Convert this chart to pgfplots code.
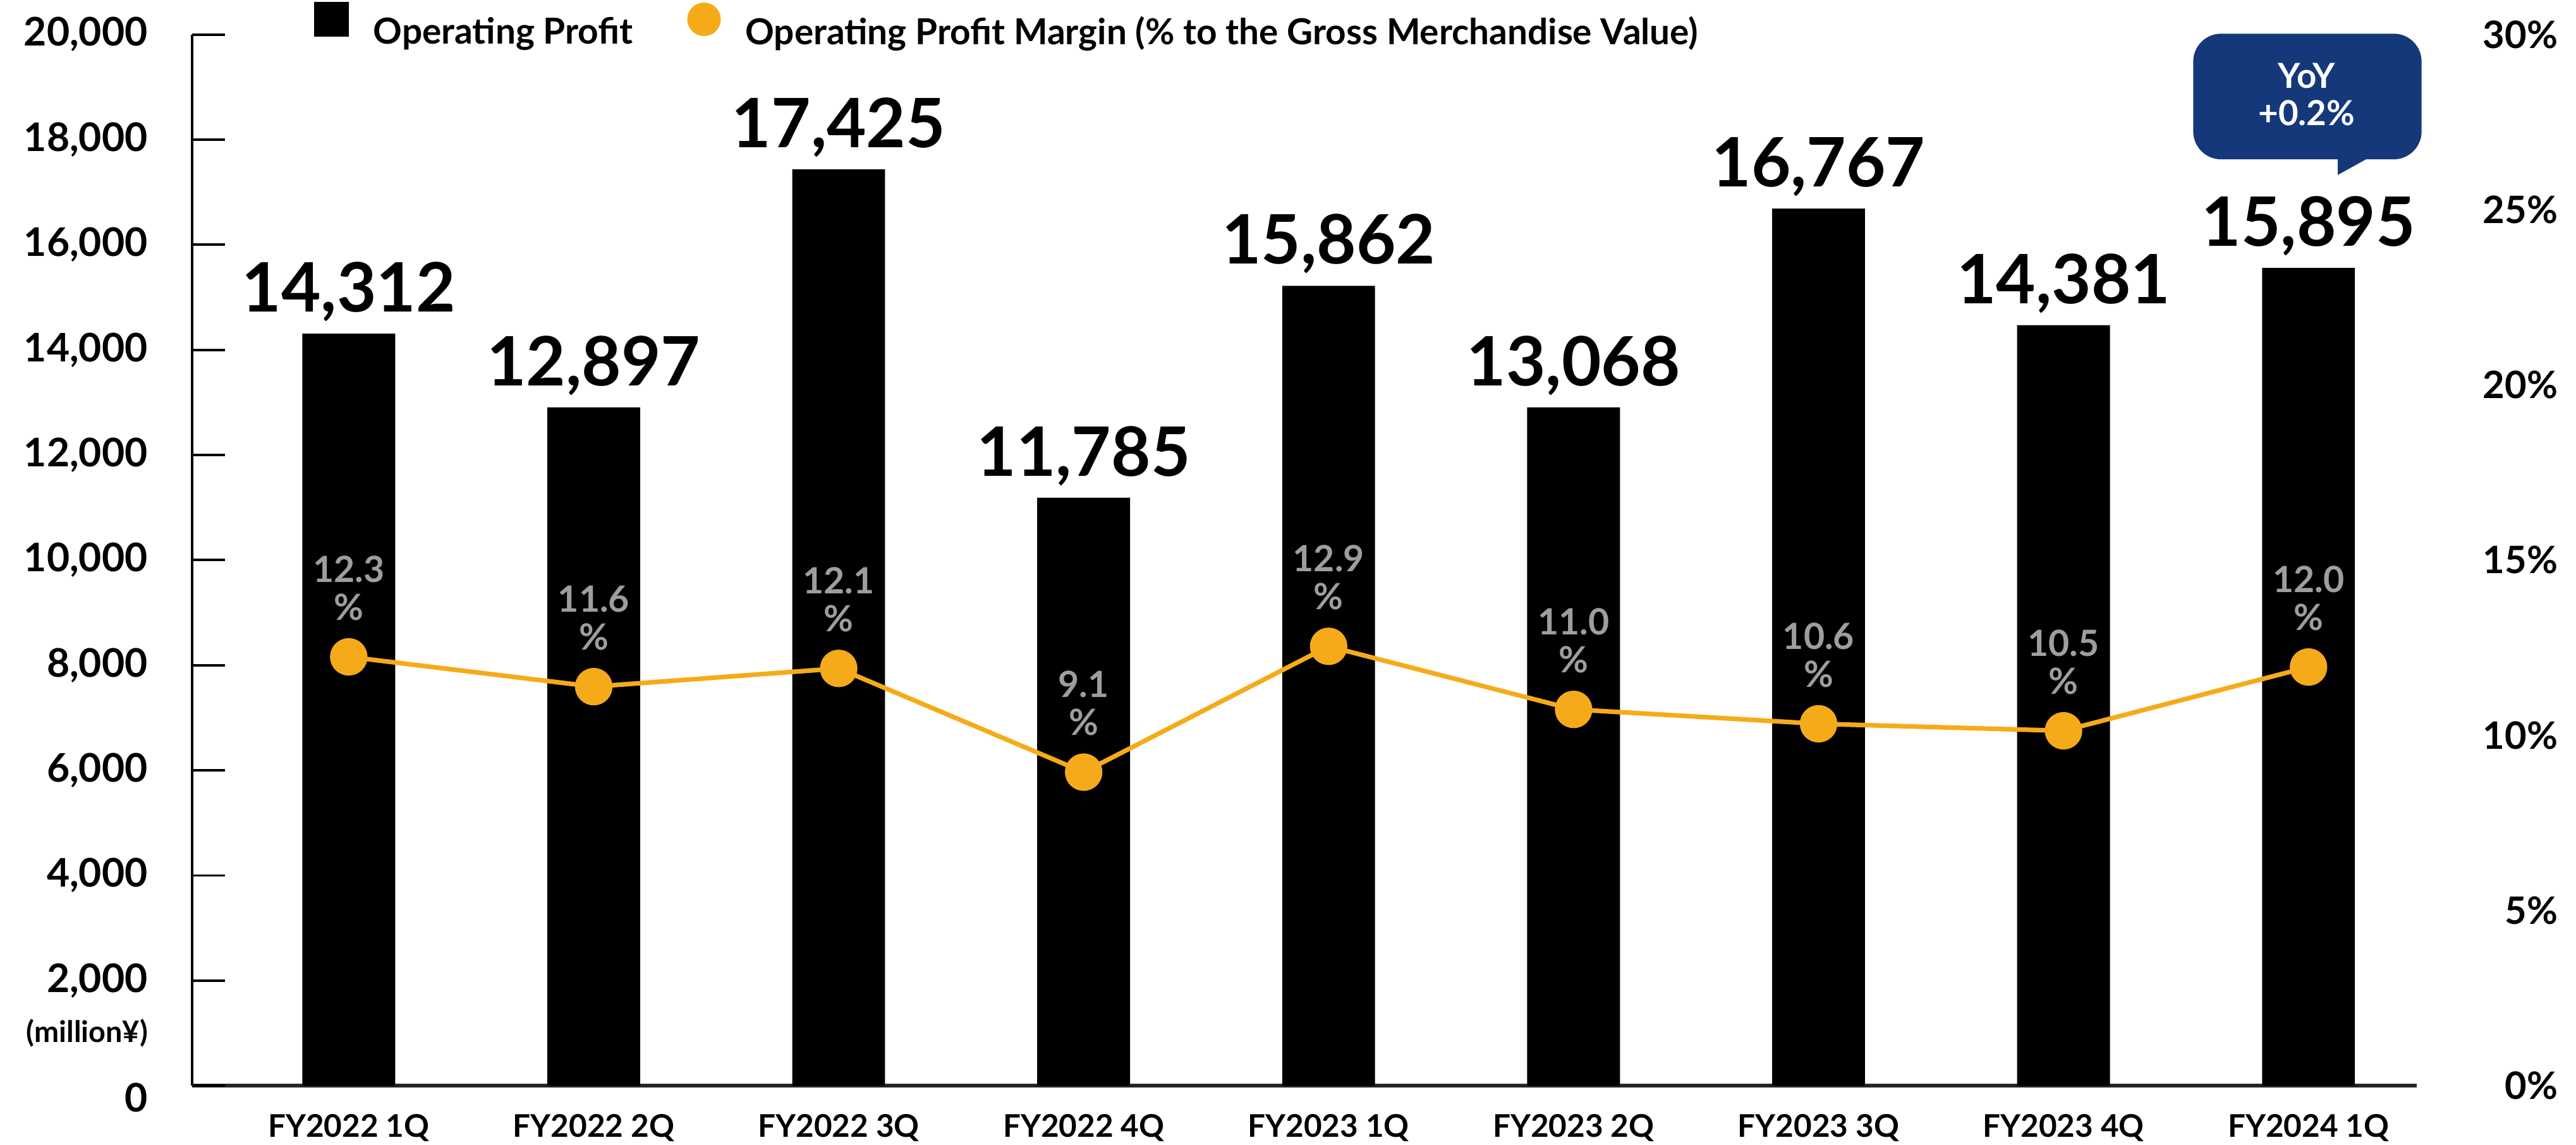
\documentclass[border=0pt]{standalone}
\usepackage{fontspec}
\setmainfont{Lato}
\usepackage{pgfplots}
\pgfplotsset{compat=1.18}
\definecolor{opm}{RGB}{245,171,25}
\definecolor{lblgray}{RGB}{158,158,158}
\definecolor{yoyblue}{RGB}{20,56,122}
\newcommand{\fs}[1]{\fontsize{#1}{#1}\selectfont\bfseries}

\begin{document}
\begin{tikzpicture}
\path[use as bounding box] (-117pt,-36pt) rectangle (1451pt,661pt);
\pgfplotsset{base/.style={scale only axis, width=1354pt, height=640pt,
    xmin=-0.639, xmax=8.442, clip=false,
    /pgf/number format/assume math mode=true}}

% operating profit (million yen), left axis
\begin{axis}[base,
  ymin=0, ymax=20000,
  axis x line*=bottom, axis y line*=left,
  x axis line style={line width=2.2pt, draw=black!85, -},
  y axis line style={line width=1.5pt, -},
  xtick={0,...,8},
  xticklabels={FY2022 1Q,FY2022 2Q,FY2022 3Q,FY2022 4Q,FY2023 1Q,FY2023 2Q,FY2023 3Q,FY2023 4Q,FY2024 1Q},
  x tick style={draw=none},
  xticklabel style={font=\fs{19}, anchor=north, inner sep=0pt, yshift=-17pt},
  ytick={2000,4000,...,20000},
  extra y ticks={0},
  extra y tick style={yticklabel style={yshift=-7pt}},
  scaled y ticks=false,
  yticklabel style={font=\fs{24}, anchor=east, inner sep=0pt, xshift=-27pt,
    /pgf/number format/1000 sep={,}},
  y tick style={line width=1.5pt, black},
  tick align=inside, major tick length=20pt,
  legend columns=2, legend cell align=left,
  legend style={font=\fs{21.8}, draw=none, fill=none, inner sep=0pt,
    at={(0.0547,1.0095)}, anchor=west, column sep=0pt,
    nodes={inner sep=0pt},
    /tikz/every even column/.append style={column sep=33pt}},
]
\addplot[ybar, bar width=56.5pt, fill=black, draw=none,
  nodes near coords={\pgfplotspointmeta}, point meta=explicit symbolic,
  every node near coord/.append style={font=\fs{41.5}, black, anchor=south,
    inner sep=0pt, text depth=0pt, yshift=13pt},
  legend image code/.code={\fill[black] (0pt,-3pt) rectangle (21pt,18pt); \path (36pt,0pt);}]
coordinates {(0,14310)[14,312] (1,12906)[12,897] (2,17437)[17,425]
  (3,11187)[11,785] (4,15219)[15,862] (5,12906)[13,068]
  (6,16687)[16,767] (7,14469)[14,381] (8,15562)[15,895]};
\addlegendentry{Operating Profit}
\addlegendimage{legend image code/.code={\fill[opm] (10pt,7.5pt) circle (10pt); \path (35pt,0pt);}}
\addlegendentry{Operating Profit Margin (\% to the Gross Merchandise Value)}
\end{axis}

% margin (%), right axis
\begin{axis}[base,
  ymin=0, ymax=30,
  axis x line=none, axis y line*=right,
  y axis line style={draw=none},
  ytick={0,5,...,30},
  yticklabel={\pgfmathprintnumber{\tick}\%},
  yticklabel style={font=\fs{23}, anchor=east, inner sep=0pt, xshift=86pt},
  major tick length=0pt, y tick style={draw=none}]
\addplot[opm, line width=2.8pt, mark=*, mark size=10pt,
  mark options={fill=opm, draw=none},
  nodes near coords={\pgfplotspointmeta\\\%}, point meta=explicit symbolic,
  every node near coord/.append style={font=\fontsize{22}{23}\selectfont\bfseries,
    lblgray, align=center, anchor=south, inner sep=0pt, text depth=0pt, yshift=21pt}]
coordinates {(0,12.24)[12.3] (1,11.39)[11.6] (2,11.91)[12.1] (3,8.95)[9.1]
  (4,12.54)[12.9] (5,10.74)[11.0] (6,10.33)[10.6] (7,10.13)[10.5] (8,11.95)[12.0]};
\end{axis}

\fill[yoyblue, rounded corners=17pt] (1218pt,564pt) rectangle (1357pt,640.5pt);
\fill[yoyblue] (1306pt,565pt) -- (1306pt,554.5pt) -- (1325pt,565pt) -- cycle;
\node[white, font=\fs{21}, anchor=base, inner sep=0pt] at (1287pt,607.4pt) {YoY};
\node[white, font=\fs{21}, anchor=base, inner sep=0pt] at (1287pt,584.5pt) {+0.2\%};
\node[font=\fs{18}, inner sep=0pt] at (-64pt,32pt) {(million¥)};
\end{tikzpicture}
\end{document}
